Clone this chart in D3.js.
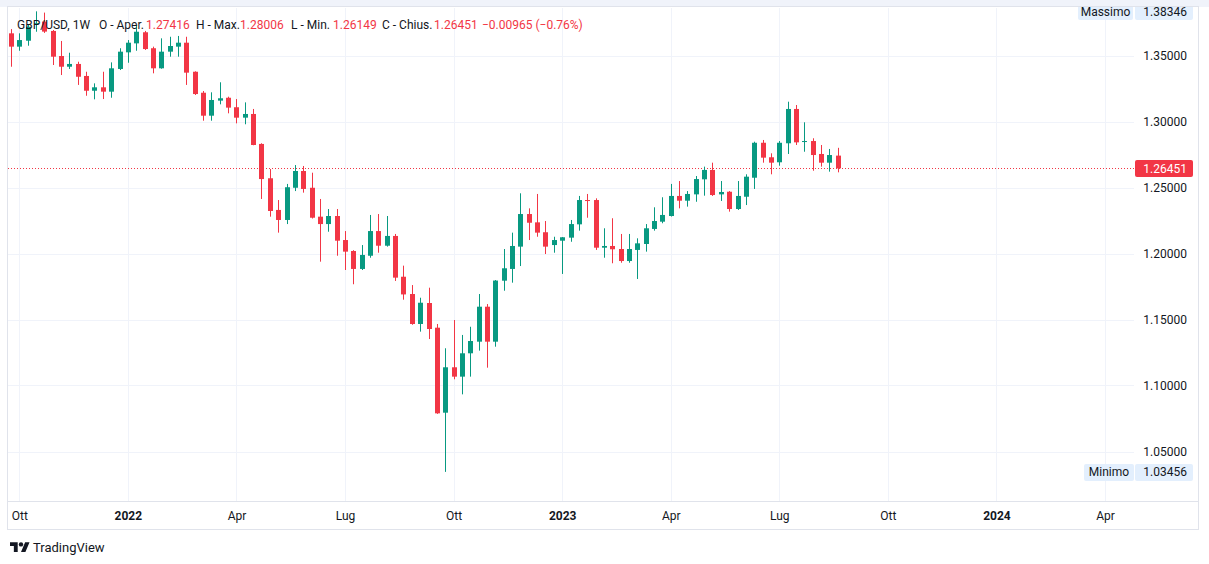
<!doctype html>
<html>
<head>
<title>GBP/USD 1W</title>
<style>
html, body {
	margin: 0;
	padding: 0;
	background: #ffffff;
}
svg {
	display: block;
	font-family: Roboto, "Noto Sans", sans-serif;
}
</style>
<script src="https://cdnjs.cloudflare.com/ajax/libs/d3/7.8.5/d3.min.js"></script>
</head>
<body>
<script>
// weekly bars, GBP/USD
var weeks = [
	"2021-09-27","2021-10-04","2021-10-11","2021-10-18","2021-10-25","2021-11-01","2021-11-08","2021-11-15","2021-11-22","2021-11-29",
	"2021-12-06","2021-12-13","2021-12-20","2021-12-27","2022-01-03","2022-01-10","2022-01-17","2022-01-24","2022-01-31","2022-02-07",
	"2022-02-14","2022-02-21","2022-02-28","2022-03-07","2022-03-14","2022-03-21","2022-03-28","2022-04-04","2022-04-11","2022-04-18",
	"2022-04-25","2022-05-02","2022-05-09","2022-05-16","2022-05-23","2022-05-30","2022-06-06","2022-06-13","2022-06-20","2022-06-27",
	"2022-07-04","2022-07-11","2022-07-18","2022-07-25","2022-08-01","2022-08-08","2022-08-15","2022-08-22","2022-08-29","2022-09-05",
	"2022-09-12","2022-09-19","2022-09-26","2022-10-03","2022-10-10","2022-10-17","2022-10-24","2022-10-31","2022-11-07","2022-11-14",
	"2022-11-21","2022-11-28","2022-12-05","2022-12-12","2022-12-19","2022-12-26","2023-01-02","2023-01-09","2023-01-16","2023-01-23",
	"2023-01-30","2023-02-06","2023-02-13","2023-02-20","2023-02-27","2023-03-06","2023-03-13","2023-03-20","2023-03-27","2023-04-03",
	"2023-04-10","2023-04-17","2023-04-24","2023-05-01","2023-05-08","2023-05-15","2023-05-22","2023-05-29","2023-06-05","2023-06-12",
	"2023-06-19","2023-06-26","2023-07-03","2023-07-10","2023-07-17","2023-07-24","2023-07-31","2023-08-07","2023-08-14","2023-08-21"
];
var open = [
	1.3668,1.3567,1.3612,1.3738,1.3757,1.3686,1.3496,1.3415,1.3436,1.3345,
	1.3233,1.3259,1.3226,1.3398,1.3524,1.3592,1.3676,1.3555,1.3403,1.3529,
	1.3567,1.3597,1.3377,1.3218,1.3044,1.3158,1.3180,1.3108,1.3029,1.3057,
	1.2830,1.2570,1.2330,1.2254,1.2498,1.2625,1.2498,1.2279,1.2223,1.2284,
	1.2102,1.2019,1.1883,1.1983,1.2170,1.2059,1.2133,1.1824,1.1693,1.1466,
	1.1625,1.1438,1.0794,1.1138,1.1067,1.1244,1.1332,1.1597,1.1332,1.1794,
	1.1883,1.2052,1.2299,1.2236,1.2161,1.2064,1.2097,1.2120,1.2221,1.2405,
	1.2405,1.2044,1.2057,1.2034,1.1943,1.2027,1.2072,1.2186,1.2241,1.2284,
	1.2436,1.2400,1.2448,1.2562,1.2633,1.2448,1.2468,1.2337,1.2430,1.2574,
	1.2839,1.2729,1.2691,1.2835,1.3095,1.2850,1.2852,1.2754,1.2688,1.27416
];
var high = [
	1.3700,1.3668,1.3731,1.38346,1.3825,1.3693,1.3610,1.3521,1.3453,1.3377,
	1.3289,1.3377,1.3448,1.3555,1.3617,1.3731,1.3686,1.3567,1.3630,1.3642,
	1.3648,1.3642,1.3380,1.3231,1.3221,1.3297,1.3188,1.3170,1.3145,1.3095,
	1.2835,1.2640,1.2405,1.2527,1.2670,1.2663,1.2612,1.2413,1.2337,1.2337,
	1.2170,1.2025,1.2064,1.2292,1.2299,1.2284,1.2148,1.1908,1.1761,1.1665,
	1.1741,1.1466,1.1282,1.1496,1.1383,1.1445,1.1693,1.1617,1.1799,1.2034,
	1.2158,1.2456,1.2342,1.2451,1.2246,1.2127,1.2125,1.2254,1.2436,1.2451,
	1.2418,1.2191,1.2267,1.2148,1.2148,1.2115,1.2223,1.2350,1.2426,1.2527,
	1.2549,1.2473,1.2587,1.2658,1.2688,1.2549,1.2473,1.2549,1.2600,1.2847,
	1.2860,1.2759,1.2852,1.3150,1.3125,1.2994,1.2873,1.2822,1.2792,1.28006
];
var low = [
	1.3415,1.3536,1.3574,1.3680,1.3671,1.3428,1.3352,1.3398,1.3277,1.3195,
	1.3168,1.3170,1.3180,1.3390,1.3445,1.3536,1.3542,1.3365,1.3400,1.3491,
	1.3491,1.3277,1.3201,1.3006,1.3006,1.3130,1.3062,1.2986,1.2979,1.2820,
	1.2413,1.2279,1.2158,1.2223,1.2473,1.2461,1.2265,1.1938,1.2165,1.1983,
	1.1875,1.1767,1.1875,1.1968,1.2006,1.2052,1.1792,1.1650,1.1460,1.1408,
	1.1352,1.0785,1.03456,1.1047,1.0933,1.1067,1.1264,1.1135,1.1294,1.1718,
	1.1779,1.1905,1.2102,1.2127,1.1996,1.2006,1.1845,1.2089,1.2173,1.2271,
	1.2027,1.1968,1.1926,1.1930,1.1930,1.1807,1.2014,1.2173,1.2229,1.2280,
	1.2342,1.2355,1.2392,1.2438,1.2436,1.2398,1.2317,1.2330,1.2367,1.2489,
	1.2688,1.2600,1.2665,1.2754,1.2822,1.2771,1.2627,1.2658,1.2620,1.26149
];
var close = [
	1.3567,1.3617,1.3718,1.3745,1.3681,1.3491,1.3415,1.3436,1.3339,1.3233,
	1.3259,1.3226,1.3403,1.3529,1.3597,1.3680,1.3549,1.3403,1.3529,1.3572,
	1.3597,1.3370,1.3208,1.3044,1.3163,1.3176,1.3105,1.3029,1.3057,1.2822,
	1.2564,1.2322,1.2254,1.2502,1.2625,1.2489,1.2271,1.2223,1.2284,1.2097,
	1.2014,1.1883,1.1989,1.2170,1.2059,1.2133,1.1817,1.1690,1.1466,1.1627,
	1.1428,1.0789,1.1138,1.1067,1.1244,1.1337,1.1597,1.1332,1.1795,1.1888,
	1.2057,1.2299,1.2233,1.2158,1.2052,1.2102,1.2123,1.2223,1.2405,1.2400,
	1.2044,1.2057,1.2032,1.1943,1.2034,1.2077,1.2191,1.2246,1.2292,1.2436,
	1.2400,1.2451,1.2564,1.2633,1.2443,1.2466,1.2337,1.2436,1.2582,1.2839,
	1.2726,1.2688,1.2839,1.3095,1.2842,1.2852,1.2746,1.2688,1.2746,1.26451
];

var priceTicks = [1.05, 1.10, 1.15, 1.20, 1.25, 1.30, 1.35];
var timeTicks = ["2021-10-04","2022-01-03","2022-04-04","2022-07-04","2022-10-03","2023-01-02","2023-04-03","2023-07-03","2023-10-02","2024-01-01","2024-04-01"];
var timeLabels = ["Ott","2022","Apr","Lug","Ott","2023","Apr","Lug","Ott","2024","Apr"];
var lastPrice = 1.26451,
	maxPrice = 1.38346,
	minPrice = 1.03456;

var legend = [
	{ t: "GBP/USD, 1W", x: 17, c: "#131722" },
	{ t: "O - Aper.", x: 99, c: "#131722" },
	{ t: "1.27416", x: 146, c: "#F23645" },
	{ t: "H - Max.", x: 196, c: "#131722" },
	{ t: "1.28006", x: 240, c: "#F23645" },
	{ t: "L - Min.", x: 291, c: "#131722" },
	{ t: "1.26149", x: 333, c: "#F23645" },
	{ t: "C - Chius.", x: 382, c: "#131722" },
	{ t: "1.26451", x: 434, c: "#F23645" },
	{ t: "\u22120.00965 (\u22120.76%)", x: 482, c: "#F23645" }
];

var width = 1209, height = 564;
var paneLeft = 8, paneRight = 1134, paneTop = 8, paneBottom = 501;
var up = "#089981", down = "#F23645";

var parse = d3.utcParse("%Y-%m-%d");

var svg = d3.select("body").append("svg")
	.attr("width", width)
	.attr("height", height);

var x = d3.scaleUtc()
	.domain([parse("2021-10-04"), parse("2024-04-01")])
	.range([19.3, 1105]);

var y = d3.scaleLinear()
	.domain([1.05, 1.35])
	.range([451.5, 55.5]);

svg.append("defs").append("clipPath").attr("id", "plot")
	.append("rect")
	.attr("x", paneLeft).attr("y", paneTop)
	.attr("width", paneRight - paneLeft).attr("height", paneBottom - paneTop);

// grid
svg.append("g").selectAll("line").data(priceTicks).enter().append("line")
	.attr("x1", paneLeft).attr("x2", paneRight)
	.attr("y1", function (d) { return Math.round(y(d)) + 0.5; })
	.attr("y2", function (d) { return Math.round(y(d)) + 0.5; })
	.attr("stroke", "#f0f3fa");

svg.append("g").selectAll("line").data(timeTicks).enter().append("line")
	.attr("x1", function (d) { return Math.round(x(parse(d))) + 0.5; })
	.attr("x2", function (d) { return Math.round(x(parse(d))) + 0.5; })
	.attr("y1", paneTop).attr("y2", paneBottom)
	.attr("stroke", "#f0f3fa");

// last price dotted line
svg.append("line")
	.attr("x1", paneLeft).attr("x2", paneRight)
	.attr("y1", Math.round(y(lastPrice)) + 0.5)
	.attr("y2", Math.round(y(lastPrice)) + 0.5)
	.attr("stroke", down)
	.attr("stroke-dasharray", "1,2");

// candles
var bars = weeks.map(function (w, i) {
	return { date: parse(w), o: open[i], h: high[i], l: low[i], c: close[i] };
});

var plot = svg.append("g").attr("clip-path", "url(#plot)");

plot.selectAll(".wick").data(bars).enter().append("line")
	.attr("class", "wick")
	.attr("x1", function (d) { return Math.round(x(d.date)) + 0.5; })
	.attr("x2", function (d) { return Math.round(x(d.date)) + 0.5; })
	.attr("y1", function (d) { return y(d.h); })
	.attr("y2", function (d) { return y(d.l); })
	.attr("stroke", function (d) { return d.c >= d.o ? up : down; })
	.attr("stroke-width", 1);

plot.selectAll(".body").data(bars).enter().append("rect")
	.attr("class", "body")
	.attr("x", function (d) { return Math.round(x(d.date)) - 2; })
	.attr("width", 5)
	.attr("y", function (d) { return y(Math.max(d.o, d.c)); })
	.attr("height", function (d) { return Math.max(1, Math.abs(y(d.o) - y(d.c))); })
	.attr("fill", function (d) { return d.c >= d.o ? up : down; });

// price axis
var yAxis = svg.append("g")
	.attr("transform", "translate(" + paneRight + ",0)")
	.call(d3.axisRight(y).tickValues(priceTicks).tickFormat(d3.format(".5f")).tickSize(0).tickPadding(53));
yAxis.select(".domain").remove();
yAxis.selectAll("text")
	.attr("text-anchor", "end")
	.attr("fill", "#131722")
	.style("font-size", "12px")
	.style("font-family", "Roboto, sans-serif");

// time axis
svg.append("line")
	.attr("x1", paneLeft).attr("x2", 1198)
	.attr("y1", paneBottom + 0.5).attr("y2", paneBottom + 0.5)
	.attr("stroke", "#e0e3eb");

var xAxis = svg.append("g")
	.attr("transform", "translate(0," + paneBottom + ")")
	.call(d3.axisBottom(x).tickValues(timeTicks.map(parse))
		.tickFormat(function (d, i) { return timeLabels[i]; })
		.tickSize(0).tickPadding(10));
xAxis.select(".domain").remove();
xAxis.selectAll("text")
	.attr("fill", "#131722")
	.style("font-size", "12px")
	.style("font-family", "Roboto, sans-serif")
	.style("font-weight", function (d, i) { return /^\d{4}$/.test(timeLabels[i]) ? "bold" : "normal"; });

// price labels on the axis
function tag(yv, w, x0, fill, txt, col, anchor, tx) {
	svg.append("rect")
		.attr("x", x0).attr("y", Math.round(yv) - 8)
		.attr("width", w).attr("height", 17)
		.attr("rx", 2)
		.attr("fill", fill);
	svg.append("text")
		.attr("x", tx).attr("y", yv)
		.attr("dy", "0.35em")
		.attr("text-anchor", anchor)
		.attr("fill", col)
		.style("font-size", "12px")
		.text(txt);
}
tag(y(lastPrice), 58, 1135, down, d3.format(".5f")(lastPrice), "#ffffff", "end", 1187);
tag(y(maxPrice), 55, 1078, "#e3effd", "Massimo", "#131722", "middle", 1105.5);
tag(y(maxPrice), 58, 1135, "#e3effd", d3.format(".5f")(maxPrice), "#131722", "end", 1187);
tag(y(minPrice), 50, 1084, "#e3effd", "Minimo", "#131722", "middle", 1109);
tag(y(minPrice), 58, 1135, "#e3effd", d3.format(".5f")(minPrice), "#131722", "end", 1187);

// frame
svg.append("rect")
	.attr("x", 0).attr("y", 0)
	.attr("width", width).attr("height", 7)
	.attr("fill", "#f0f3fa");
svg.append("rect")
	.attr("x", 7.5).attr("y", 6.5)
	.attr("width", 1191).attr("height", 523)
	.attr("fill", "none")
	.attr("stroke", "#e0e3eb");

// legend
svg.append("g").selectAll("text").data(legend).enter().append("text")
	.attr("x", function (d) { return d.x; })
	.attr("y", 24.5)
	.attr("dy", "0.35em")
	.attr("fill", function (d) { return d.c; })
	.style("font-size", "12px")
	.text(function (d) { return d.t; });

// TradingView mark
var logo = svg.append("g").attr("transform", "translate(10,540) scale(0.55)").attr("fill", "#131722");
logo.append("path").attr("d", "M14 22H7V11H0V4h14v18zM28 22h-8l7.5-18h8L28 22z");
logo.append("circle").attr("cx", 20).attr("cy", 8).attr("r", 4);

svg.append("text")
	.attr("x", 33).attr("y", 547)
	.attr("dy", "0.35em")
	.attr("fill", "#131722")
	.style("font-size", "13px")
	.text("TradingView");
</script>
</body>
</html>
